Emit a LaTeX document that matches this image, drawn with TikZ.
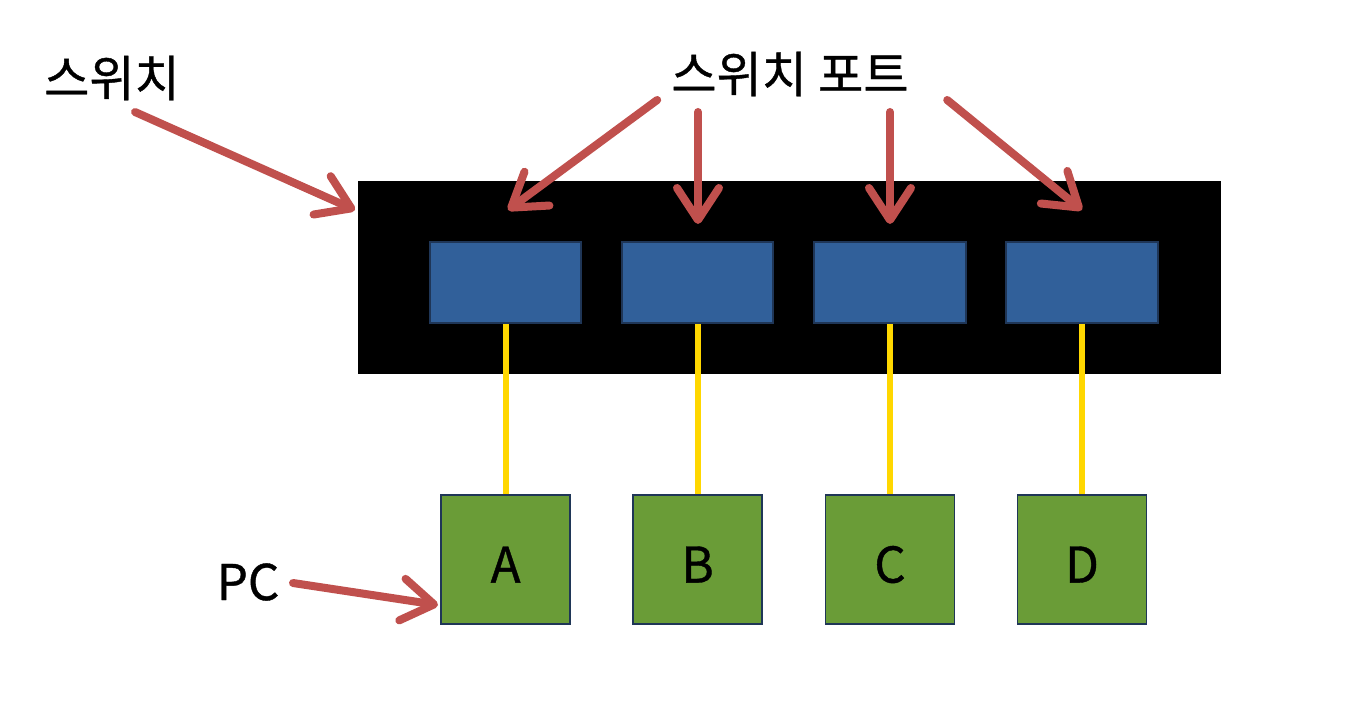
\documentclass[tikz,border=0pt]{standalone}
\usepackage{fontspec}
\setmainfont{Noto Sans CJK KR}[FakeBold=0.8]
\usetikzlibrary{arrows.meta}
\definecolor{arrowred}{HTML}{C0504D}
\definecolor{portblue}{HTML}{31609A}
\definecolor{pcgreen}{HTML}{6A9C37}
\definecolor{edgenavy}{HTML}{1F3657}
\definecolor{cableyellow}{HTML}{FFD700}
\begin{document}
\begin{tikzpicture}[font=\fontsize{35}{38}\selectfont]
        \useasboundingbox (0,0) rectangle (34,18.15);
        \node[fill=black,draw=black,minimum width=21.55cm,minimum height=4.8cm] (SW) at (19.725,11.225) {};
        \begin{scope}[every node/.style={draw=edgenavy,line width=1.5pt,fill=portblue,minimum width=3.78cm,minimum height=2.03cm}]
          \node (P1) at (12.64,11.09) {};
          \node (P2) at (17.44,11.09) {};
          \node (P3) at (22.25,11.09) {};
          \node (P4) at (27.05,11.09) {};
        \end{scope}
        \begin{scope}[every node/.style={draw=edgenavy,line width=1.2pt,fill=pcgreen,minimum size=3.22cm,text height=1.15cm,text depth=0cm}]
          \node (A) at (12.64,4.16) {A};
          \node (B) at (17.44,4.16) {B};
          \node (C) at (22.25,4.16) {C};
          \node (D) at (27.05,4.16) {D};
        \end{scope}
        \begin{scope}[every edge/.style={draw=cableyellow,line width=0.15cm}]
          \path (P1) edge (A);
          \path (P2) edge (B);
          \path (P3) edge (C);
          \path (P4) edge (D);
        \end{scope}
        \node (swlabel) at (2.8,16.2) {스위치};
        \node (portlabel) at (19.75,16.3) {스위치 포트};
        \node (pclabel) at (6.2,3.6) {PC};
        \coordinate (swfrom) at (3.375,15.35);
        \coordinate (swto) at (8.875,12.9);
        \coordinate (p1from) at (16.43,15.65);
        \coordinate (p1to) at (12.7,12.9);
        \coordinate (p2from) at (17.45,15.35);
        \coordinate (p2to) at (17.45,12.55);
        \coordinate (p3from) at (22.25,15.35);
        \coordinate (p3to) at (22.25,12.55);
        \coordinate (p4from) at (23.68,15.65);
        \coordinate (p4to) at (27.05,12.9);
        \coordinate (pcfrom) at (7.325,3.575);
        \coordinate (pcto) at (10.95,3.025);
        \begin{scope}[every edge/.style={draw=arrowred,line width=0.2cm,line cap=round,-{Straight Barb[length=0.8cm,width=1.05cm,line cap=round,line join=round]}}]
          \path (swfrom) edge (swto);
          \path (p1from) edge (p1to);
          \path (p2from) edge (p2to);
          \path (p3from) edge (p3to);
          \path (p4from) edge (p4to);
          \path (pcfrom) edge (pcto);
        \end{scope}
\end{tikzpicture}
\end{document}
